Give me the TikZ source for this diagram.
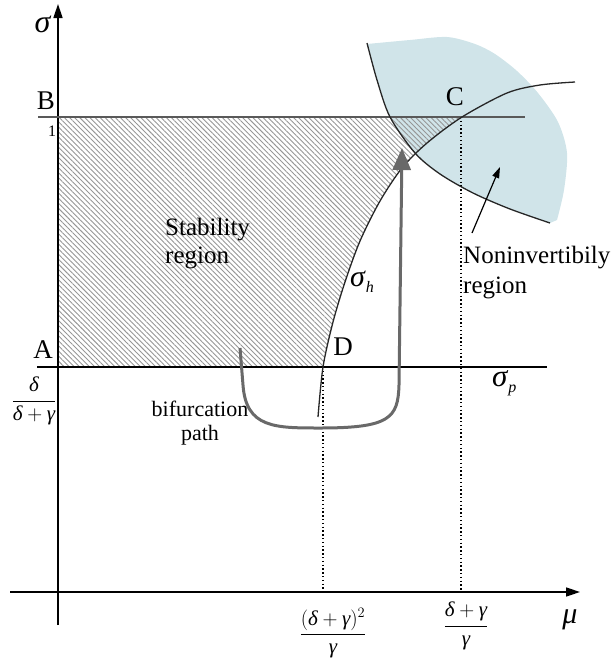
\documentclass[tikz,border=0pt]{standalone}
\usepackage{fontspec}
\setmainfont{Liberation Serif}
\usetikzlibrary{arrows.meta,patterns.meta}
\definecolor{nbl}{RGB}{208,228,233}
\definecolor{hgray}{RGB}{150,150,150}
\definecolor{pathgray}{RGB}{105,105,105}
\newcommand\gsig{\textit{σ}}
\newcommand\gdel{\textit{δ}}
\newcommand\ggam{\textit{γ}}
\newcommand\gmu{\textit{μ}}
\newcommand\sbx[1]{\raisebox{-6pt}{\fontsize{16}{17}\selectfont\textit{#1}}}
\tikzset{
 axis/.style={line width=1.6pt, -{Triangle[length=14pt,width=9pt]}},
 lbl/.style={font=\fontsize{27}{30}\selectfont, inner sep=0pt},
 txt/.style={font=\fontsize{25}{28}\selectfont, inner sep=0pt, align=left},
 mth/.style={font=\fontsize{21}{24}\selectfont, inner sep=0pt},
 curve/.style={line width=1.3pt, draw=black!85},
 dotline/.style={line width=1.3pt, dash pattern=on 1.3pt off 2.5pt},
}
\begin{document}
\begin{tikzpicture}[x=1pt,y=-1pt]
\useasboundingbox (0,0) rectangle (614,659);
% blue noninvertibility region
\fill[nbl] plot[smooth] coordinates {(367,44) (410,40) (447,37) (475,44) (495,54) (517,71) (538,93) (558,122) (567,153) (564,190) (557,220)}
  -- plot[smooth] coordinates {(550,223) (510,209) (473,193) (440,174) (415,153) (390,117) (377,80) (367,43)} -- cycle;
% hatched stability region
\begin{scope}
\clip plot[smooth] coordinates {(318,417) (323,367) (333,322) (345,282) (360,241) (380,201) (402,168) (427,143) (462,117) (507,93) (540,85) (575,82)} -- (600,0) -- (0,0) -- (0,417) -- cycle;
\fill[pattern={Lines[angle=-45,distance=3.6pt,line width=0.9pt]}, pattern color=hgray] (58,117) rectangle (600,367);
\end{scope}
% dotted guides
\draw[dotline] (323,367) -- (323,592);
\draw[dotline] (461,117) -- (461,592);
% axes
\draw[axis] (58,625) -- (58,4);
\draw[axis] (10,592) -- (580,592);
% levels
\draw[line width=1.5pt, black!65] (38,117) -- (525,117);
\draw[line width=1.5pt] (37,367) -- (547,367);
% curves
\draw[curve] plot[smooth] coordinates {(318,417) (323,367) (333,322) (345,282) (360,241) (380,201) (402,168) (427,143) (462,117) (507,93) (540,85) (575,82)};
\draw[curve] plot[smooth] coordinates {(367,43) (377,80) (390,117) (415,153) (440,174) (473,193) (510,209) (550,223)};
% bifurcation path
\coordinate (bpS) at (240,348);
\coordinate (bpE) at (402,148);
\draw[line width=3pt, pathgray, -{Triangle[length=22pt,width=18pt]}] (bpS) -- (243,385) .. controls (246,428) and (275,428) .. (320,428) .. controls (390,428) and (398,418) .. (399,385) -- (bpE);
% noninvertibility arrow
\coordinate (naS) at (472,233);
\coordinate (naE) at (500,167);
\draw[line width=1.2pt, -{Triangle[length=11pt,width=7pt]}] (naS) -- (naE);
% labels
\node[lbl, font=\fontsize{32}{34}\selectfont] (sig) at (43,24) {\gsig};
\node[lbl] (B) at (46,101) {B};
\node[lbl, font=\fontsize{16}{18}\selectfont] (one) at (52,131) {1};
\node[lbl] (A) at (43,350) {A};
\node[lbl] (C) at (455,97) {C};
\node[lbl] (D) at (343,347) {D};
\node[mth] (frA) at (34,401) {$\displaystyle\frac{\gdel}{\gdel+\ggam}$};
\node[txt, anchor=north west] (stab) at (165,218) {Stability\\region};
\node[txt, font=\fontsize{25}{30}\selectfont, anchor=north west] (noninv) at (463,246) {Noninvertibily\\region};
\node[txt, align=center, font=\fontsize{22}{24}\selectfont, anchor=north] (bif) at (200,401) {bifurcation\\path};
\node[lbl, font=\fontsize{30}{32}\selectfont, anchor=base west] (sh) at (350,286) {\gsig\sbx{h}};
\node[lbl, font=\fontsize{31}{32}\selectfont, anchor=base west] (sp) at (492,386) {\gsig\sbx{p}};
\node[lbl, font=\fontsize{30}{32}\selectfont] (mu) at (570,620) {\gmu};
\node[mth] (frD) at (333,633) {$\displaystyle\frac{(\gdel+\ggam)^2}{\ggam}$};
\node[mth] (frC) at (466,626) {$\displaystyle\frac{\gdel+\ggam}{\ggam}$};
\end{tikzpicture}
\end{document}
